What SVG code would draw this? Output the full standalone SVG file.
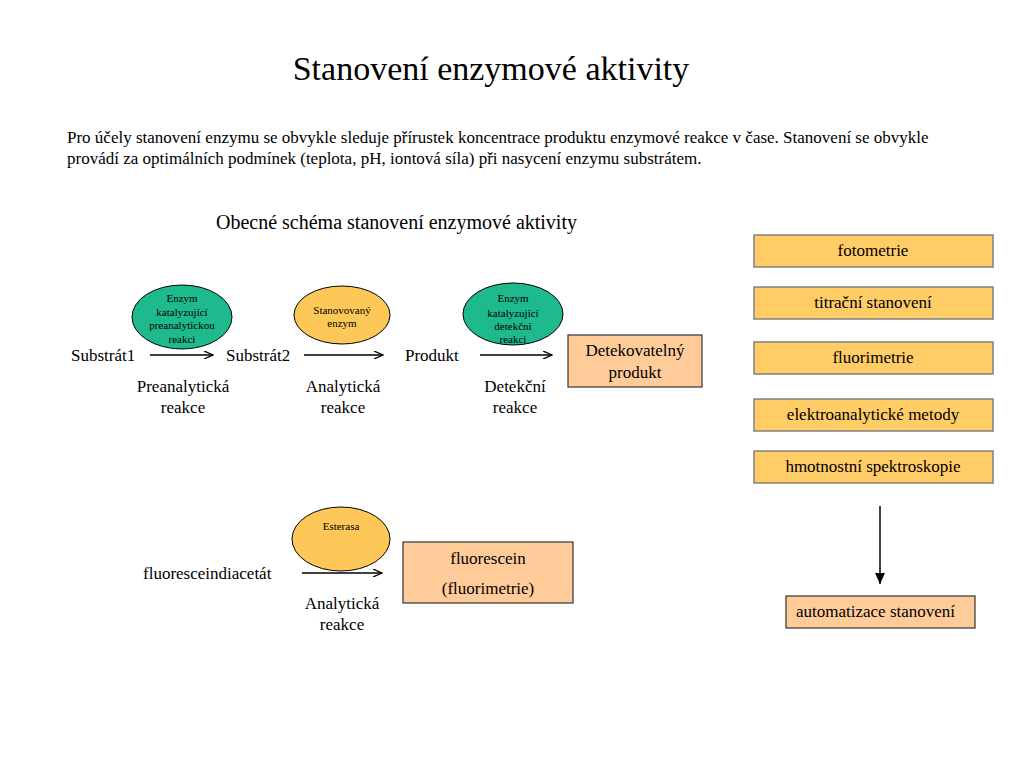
<svg xmlns="http://www.w3.org/2000/svg" width="1024" height="768" viewBox="0 0 1024 768">
<style>
text{font-family:"Liberation Serif","Times New Roman",serif;fill:#000}
.t16{font-size:17px}
.t11{font-size:11px}
.c{text-anchor:middle}
.g{fill:#1EB98C;stroke:#000;stroke-width:1}
.o{fill:#FDC858;stroke:#000;stroke-width:1}
.bx{fill:#FFCC66;stroke:#808080;stroke-width:1.5}
.pk{fill:#FFCC99;stroke:#333;stroke-width:1.2}
.ln{stroke:#000;stroke-width:1.5;fill:none}
</style>
<defs>
<marker id="ah" markerWidth="10" markerHeight="8" refX="9" refY="4" orient="auto" markerUnits="userSpaceOnUse">
<path d="M0,0 L9,4 L0,8" fill="none" stroke="#000" stroke-width="1.3"/>
</marker>
<marker id="ahf" markerWidth="10" markerHeight="12" refX="5" refY="11" orient="0" markerUnits="userSpaceOnUse">
<path d="M0,0 L10,0 L5,11 Z" fill="#000"/>
</marker>
</defs>
<rect width="1024" height="768" fill="#fff"/>
<text x="491" y="80" class="c" style="font-size:34px">Stanovení enzymové aktivity</text>
<text x="67" y="143" class="t16">Pro účely stanovení enzymu se obvykle sleduje přírustek koncentrace produktu enzymové reakce v čase. Stanovení se obvykle</text>
<text x="67" y="164" class="t16">provádí za optimálních podmínek (teplota, pH, iontová síla) při nasycení enzymu substrátem.</text>
<text x="216" y="229" style="font-size:20px">Obecné schéma stanovení enzymové aktivity</text>

<g id="enzym1">
<ellipse cx="182" cy="317" rx="50" ry="32" class="g"/>
<text x="182" y="302" class="t11 c">Enzym</text>
<text x="182" y="316" class="t11 c">katalyzující</text>
<text x="182" y="329" class="t11 c">preanalytickou</text>
<text x="182" y="343" class="t11 c">reakci</text>
</g>
<g id="enzym2">
<ellipse cx="342" cy="315" rx="48" ry="29" class="o"/>
<text x="342" y="314" class="t11 c">Stanovovaný</text>
<text x="342" y="327" class="t11 c">enzym</text>
</g>
<g id="enzym3">
<ellipse cx="513" cy="314" rx="50" ry="31" class="g"/>
<text x="513" y="302" class="t11 c">Enzym</text>
<text x="513" y="317" class="t11 c">katalyzující</text>
<text x="513" y="330" class="t11 c">detekční</text>
<text x="513" y="343" class="t11 c">reakci</text>
</g>
<g id="substrat1"><text x="71" y="361" class="t16">Substrát1</text></g>
<g id="substrat2"><text x="226" y="361" class="t16">Substrát2</text></g>
<g id="produkt"><text x="405" y="361" class="t16">Produkt</text></g>
<g id="detekovatelny">
<rect x="568" y="335" width="134" height="52" class="pk"/>
<text x="635" y="356" class="t16 c">Detekovatelný</text>
<text x="635" y="378" class="t16 c">produkt</text>
</g>
<g id="labels1">
<text x="183" y="392" class="t16 c">Preanalytická</text>
<text x="183" y="413" class="t16 c">reakce</text>
<text x="343" y="392" class="t16 c">Analytická</text>
<text x="343" y="413" class="t16 c">reakce</text>
<text x="515" y="392" class="t16 c">Detekční</text>
<text x="515" y="413" class="t16 c">reakce</text>
</g>

<g id="esterasa">
<ellipse cx="341" cy="539" rx="49" ry="32" class="o"/>
<text x="341" y="530" class="t11 c">Esterasa</text>
</g>
<g id="fda"><text x="143" y="579" class="t16">fluoresceindiacetát</text></g>
<g id="fluorescein">
<rect x="403" y="542" width="170" height="61" class="pk"/>
<text x="488" y="564" class="t16 c">fluorescein</text>
<text x="488" y="594" class="t16 c">(fluorimetrie)</text>
</g>
<g id="labels2">
<text x="342" y="609" class="t16 c">Analytická</text>
<text x="342" y="630" class="t16 c">reakce</text>
</g>

<g id="fotometrie"><rect x="754" y="235" width="239" height="32" class="bx"/><text x="873" y="256" class="t16 c">fotometrie</text></g>
<g id="titracni"><rect x="754" y="287" width="239" height="32" class="bx"/><text x="873" y="308" class="t16 c">titrační stanovení</text></g>
<g id="fluorimetrie"><rect x="754" y="342" width="239" height="32" class="bx"/><text x="873" y="363" class="t16 c">fluorimetrie</text></g>
<g id="elektro"><rect x="754" y="399" width="239" height="32" class="bx"/><text x="873" y="420" class="t16 c">elektroanalytické metody</text></g>
<g id="hmotnostni"><rect x="754" y="451" width="239" height="32" class="bx"/><text x="873" y="472" class="t16 c">hmotnostní spektroskopie</text></g>
<g id="automatizace"><rect x="786" y="596" width="189" height="32" class="pk"/><text x="796" y="617" class="t16">automatizace stanovení</text></g>

<g id="connectors">
<line x1="150" y1="355" x2="213" y2="355" class="ln" marker-end="url(#ah)"/>
<line x1="304" y1="355" x2="383" y2="355" class="ln" marker-end="url(#ah)"/>
<line x1="480" y1="355" x2="552" y2="355" class="ln" marker-end="url(#ah)"/>
<line x1="302" y1="573" x2="382" y2="573" class="ln" marker-end="url(#ah)"/>
<line x1="880" y1="506" x2="880" y2="584" class="ln" marker-end="url(#ahf)"/>
</g>
</svg>
